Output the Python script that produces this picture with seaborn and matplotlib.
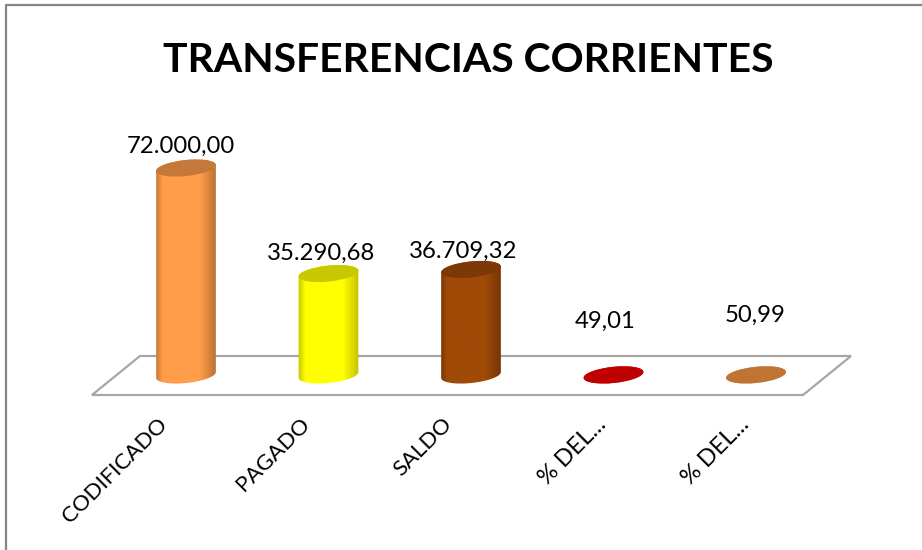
import matplotlib
matplotlib.use('Agg')
import matplotlib.pyplot as plt
from matplotlib.patches import Ellipse, PathPatch, Polygon
from matplotlib.path import Path
from matplotlib.colors import LinearSegmentedColormap
from matplotlib.transforms import IdentityTransform, ScaledTranslation
from matplotlib.lines import Line2D
import numpy as np
import pandas as pd
import seaborn as sns

categories = ['CODIFICADO', 'PAGADO', 'SALDO', '% DEL...', '% DEL...']
values = [72000.00, 35290.68, 36709.32, 49.01, 50.99]
value_labels = ['72.000,00', '35.290,68', '36.709,32', '49,01', '50,99']
body_colors = ['#FF9D4A', '#FFFF00', '#A04A08', '#E00000', '#E08A40']
top_colors = ['#C4783A', '#C8C800', '#7C3806', '#C00000', '#C07434']
edge_colors = ['#B06A30', '#B8B800', '#6E3004', '#900000', '#A06030']

W, H = 922, 550
sns.set_theme(style='white')
plt.rcParams['font.family'] = ['Lato', 'DejaVu Sans']

fig = plt.figure(figsize=(W / 100, H / 100), dpi=100, facecolor='white')
# plot area in pixels, so the floor sits under the bars
left, right, base, top = 114.75, 827.25, 375, 147
ax = fig.add_axes([left / W, 1 - base / H, (right - left) / W, (base - top) / H])
ax.patch.set_visible(False)

df = pd.DataFrame({'cat': [str(i) for i in range(5)], 'val': values})
sns.barplot(data=df, x='cat', y='val', hue='cat', palette=body_colors, legend=False,
            width=60 / 142.5, ax=ax, saturation=1)
ax.set_xlim(-0.5, 4.5)
ax.set_ylim(0, 72000 * (base - top) / 207)
sns.despine(ax=ax, left=True, bottom=True)
ax.set_yticks([])
ax.set_xlabel('')
ax.set_ylabel('')
ax.tick_params(axis='x', length=0)
ax.set_xticks(range(5))
ax.set_xticklabels(categories, rotation=45, ha='right', va='top',
                   rotation_mode='anchor', fontsize=16, color='black')
for i, lab in enumerate(ax.get_xticklabels()):
    # the truncated labels end closer to their tick
    dx = -29 if i < 3 else -18
    if i >= 3:
        lab.set_fontsize(17)
    lab.set_transform(lab.get_transform() + ScaledTranslation(dx / 100, -34 / 100, fig.dpi_scale_trans))

ident = IdentityTransform()
rx, ry, angle = 30, 8, 6
a = np.deg2rad(angle)


def ring(cx, cy, tt):
    ex = rx * np.cos(tt)
    ey = ry * np.sin(tt)
    return np.column_stack([cx + ex * np.cos(a) - ey * np.sin(a),
                            cy + ex * np.sin(a) + ey * np.cos(a)])


label_dx = [-5, -7, -8, -8, -1]
label_dy = [22, 20, 18, 54, 60]
for i, bar in enumerate(ax.patches[:5]):
    bar.set_visible(False)
    cx = bar.get_x() + bar.get_width() / 2
    x0, y0 = ax.transData.transform((cx, 0))
    x1, y1 = ax.transData.transform((cx, values[i]))

    # cylinder body, shaded across its width
    outline = np.vstack([ring(x0, y0, np.linspace(np.pi, 2 * np.pi, 40)),
                         ring(x1, y1, np.linspace(0, np.pi, 40))])
    clip = PathPatch(Path(np.vstack([outline, outline[0]]), closed=True),
                     transform=ident, facecolor='none', edgecolor='none')
    clip.set_clip_on(False)
    ax.add_patch(clip)
    cmap = LinearSegmentedColormap.from_list(
        'c', [(0, edge_colors[i]), (0.14, body_colors[i]), (0.72, body_colors[i]), (1, edge_colors[i])])
    xa = cx - bar.get_width() / 2 - 0.02
    xb = cx + bar.get_width() / 2 + 0.02
    img = ax.imshow(np.linspace(0, 1, 64).reshape(1, -1), extent=[xa, xb, -5000, values[i] + 5000],
                    cmap=cmap, aspect='auto', zorder=2)
    img.set_clip_path(clip)
    img.set_clip_box(fig.bbox)

    ax.add_patch(Ellipse((x1, y1), 2 * rx, 2 * ry, angle=angle, transform=ident,
                         facecolor=top_colors[i], edgecolor='none', zorder=3, clip_on=False))
    ax.annotate(value_labels[i], xy=(cx, values[i]), xytext=(label_dx[i], label_dy[i]),
                textcoords='offset pixels', ha='center', va='center', fontsize=17.2, color='black')

ax.set_xlim(-0.5, 4.5)
ax.set_ylim(0, 72000 * (base - top) / 207)


def px(x, y):
    return (x, H - y)


# floor of the 3D chart and outer frame
fig.add_artist(Polygon([px(92, 395), px(803, 395), px(851, 356), px(140, 356)], closed=True,
                       facecolor='white', edgecolor='#A6A6A6', linewidth=1.6,
                       transform=ident, zorder=-1))
for p, q in [((6, 550), (6, 5)), ((6, 5), (922, 5))]:
    fig.add_artist(Line2D([px(*p)[0], px(*q)[0]], [px(*p)[1], px(*q)[1]], color='#868686',
                          linewidth=1.6, transform=ident, zorder=-1))

fig.text(468 / W, 1 - 60 / H, 'TRANSFERENCIAS CORRIENTES', ha='center', va='center',
         fontsize=29.4, fontweight='bold', color='black')

fig.savefig('out.png', dpi=100, facecolor='white')
